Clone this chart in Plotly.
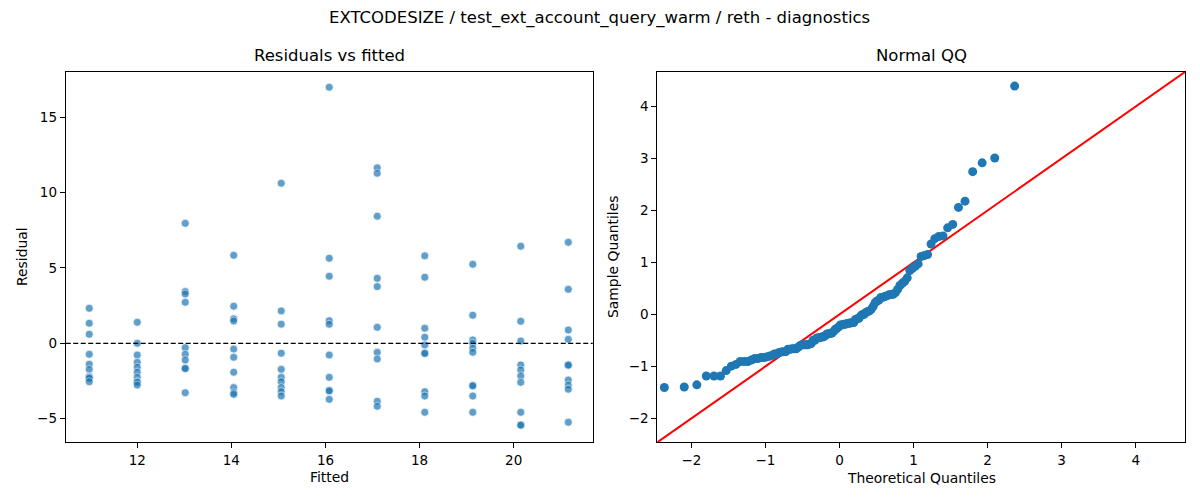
import numpy as np
import plotly.graph_objects as go
from statistics import NormalDist

# fitted value of each column of points
fitted_levels = [10.98, 12.0, 13.02, 14.05, 15.06, 16.08, 17.1, 18.11, 19.13, 20.15, 21.16]

# residuals for each fitted level, same order as fitted_levels
residuals = [
    [2.32, 1.33, 0.60, -0.73, -1.39, -1.73, -2.21, -2.26, -2.32, -2.55],
    [1.39, 0.0, -0.78, -1.26, -1.59, -1.92, -2.26, -2.55, -2.59, -2.77],
    [7.96, 3.43, 3.27, 2.72, -0.29, -0.73, -1.11, -1.66, -1.68, -3.28],
    [5.84, 2.46, 1.62, 1.48, -0.38, -0.93, -1.92, -2.94, -3.28, -3.39],
    [10.62, 2.15, 1.27, -0.66, -1.73, -2.26, -2.55, -2.94, -3.21, -3.50],
    [16.99, 5.64, 4.45, 1.50, 1.26, -0.78, -2.26, -3.12, -3.16, -3.72],
    [11.64, 11.28, 8.43, 4.31, 3.76, 1.06, -0.60, -1.04, -3.85, -4.18],
    [5.80, 4.38, 1.00, 0.40, -0.11, -0.64, -0.68, -3.21, -3.50, -4.58],
    [5.24, 1.86, 0.22, 0.0, -0.33, -0.60, -2.79, -2.83, -3.50, -4.58],
    [6.44, 1.46, 0.15, -1.44, -1.77, -2.17, -2.59, -4.58, -5.40, -5.44],
    [6.70, 3.58, 0.88, 0.26, -1.42, -1.46, -2.44, -2.77, -3.05, -5.24],
]

title = "EXTCODESIZE / test_ext_account_query_warm / reth - diagnostics"
left_yticks = [-5, 0, 5, 10, 15]
left_xticks = [12, 14, 16, 18, 20]
qq_ticks = [-2, -1, 0, 1, 2, 3, 4]

# flatten for the scatter
x_fit = []
y_res = []
for lvl, col in zip(fitted_levels, residuals):
    x_fit += [lvl] * len(col)
    y_res += col
y_res = np.array(y_res)

# normal QQ of the residuals (standardised, positions i/(n+1))
n = len(y_res)
sample_q = np.sort((y_res - y_res.mean()) / y_res.std())
theo_q = np.array([NormalDist().inv_cdf(i / (n + 1)) for i in range(1, n + 1)])

BLUE = "#1f77b4"
FONT = "DejaVu Sans"
qq_range = [-2.46, 4.67]

fig = go.Figure()

fig.add_trace(go.Scatter(
    x=x_fit, y=y_res, mode="markers", xaxis="x", yaxis="y",
    marker=dict(color=BLUE, size=8, opacity=0.7, line=dict(color="white", width=0.7)),
    showlegend=False,
))

fig.add_trace(go.Scatter(
    x=qq_range, y=qq_range, mode="lines", xaxis="x2", yaxis="y2",
    line=dict(color="red", width=2), showlegend=False,
))

fig.add_trace(go.Scatter(
    x=theo_q, y=sample_q, mode="markers", xaxis="x2", yaxis="y2",
    marker=dict(color=BLUE, size=9, line=dict(width=0)),
    showlegend=False,
))

# zero line on the residual panel
fig.add_shape(type="line", xref="x domain", yref="y", x0=0, x1=1, y0=0, y1=0,
              line=dict(color="black", width=1.3, dash="5px,2.5px"), layer="above")

axis_style = dict(showline=True, mirror=True, linecolor="black", linewidth=1,
                  ticks="outside", ticklen=5, tickwidth=1, tickcolor="black",
                  showgrid=False, zeroline=False,
                  tickfont=dict(family=FONT, size=13.5, color="black"))

# the page body adds an 8px offset, so positions are shifted back by that
fig.update_layout(
    width=1200, height=500,
    margin=dict(l=0, r=0, t=0, b=0),
    paper_bgcolor="white", plot_bgcolor="white",
    font=dict(family=FONT, color="black"),
    xaxis=dict(domain=[0.0481, 0.4873], range=[10.48, 21.68], tickvals=left_xticks, anchor="y", **axis_style),
    yaxis=dict(domain=[0.1314, 0.8726], range=[-6.57, 18.02], tickvals=left_yticks, anchor="x", **axis_style),
    xaxis2=dict(domain=[0.5411, 0.9811], range=qq_range, tickvals=qq_ticks, anchor="y2", **axis_style),
    yaxis2=dict(domain=[0.1314, 0.8726], range=qq_range, tickvals=qq_ticks, anchor="x2", **axis_style),
)

def label(text, x, y, size=13.9, angle=0):
    fig.add_annotation(text=text, x=x, y=y, xref="paper", yref="paper",
                       xanchor="center", yanchor="middle", showarrow=False,
                       textangle=angle, font=dict(family=FONT, size=size, color="black"))

label(title, 0.4933, 0.98, size=16.5)
label("Residuals vs fitted", 0.2677, 0.904, size=16.5)
label("Normal QQ", 0.7611, 0.904, size=16.5)
label("Fitted", 0.2677, 0.062)
label("Residual", 0.0117, 0.502, angle=-90)
label("Theoretical Quantiles", 0.7611, 0.06)
label("Sample Quantiles", 0.5042, 0.502, angle=-90)

fig.write_html("out.html")
